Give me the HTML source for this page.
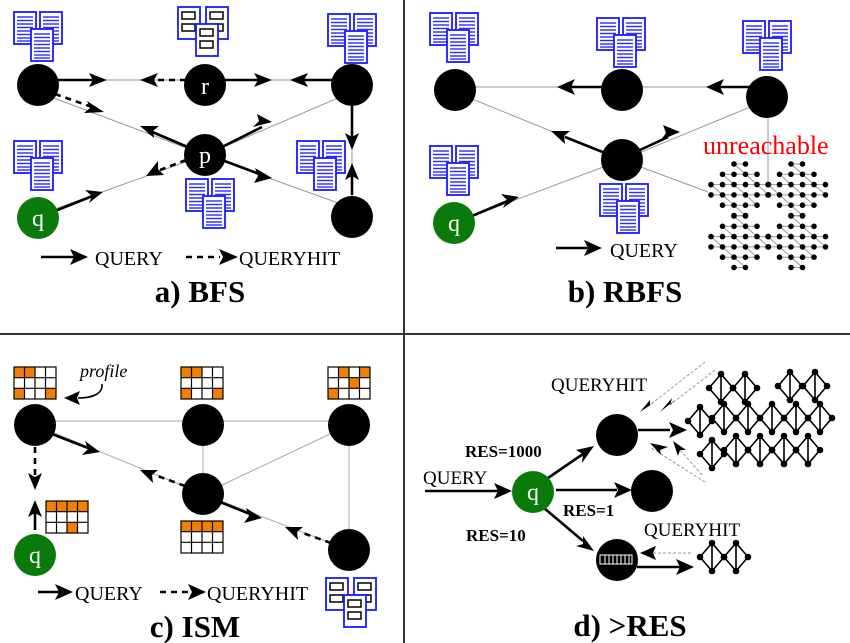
<!DOCTYPE html>
<html><head><meta charset="utf-8"><style>
html,body{margin:0;padding:0;background:#fff}
svg{display:block}
text{font-family:"Liberation Serif",serif}
</style></head><body>
<svg width="850" height="643" viewBox="0 0 850 643" xmlns="http://www.w3.org/2000/svg">
<defs>
<g id="page"><rect x="0" y="0" width="22" height="32" fill="#fff" stroke="#1a1aff" stroke-width="1.8"/><g stroke="#2a2aff" stroke-width="1.4"><line x1="3" y1="5" x2="19" y2="5"/><line x1="3" y1="8.5" x2="19" y2="8.5"/><line x1="3" y1="12" x2="19" y2="12"/><line x1="3" y1="15.5" x2="19" y2="15.5"/><line x1="3" y1="19" x2="19" y2="19"/><line x1="3" y1="22.5" x2="19" y2="22.5"/><line x1="3" y1="26" x2="19" y2="26"/><line x1="3" y1="29" x2="19" y2="29"/></g></g>
<g id="docs"><use href="#page" x="0" y="0"/><use href="#page" x="26" y="0"/><use href="#page" x="17" y="17"/></g>
<g id="cpage"><rect x="0" y="0" width="22" height="32" fill="#fff" stroke="#1a1aff" stroke-width="1.8"/><rect x="4" y="5" width="13" height="7" fill="#fff" stroke="#000" stroke-width="1.5"/><rect x="4" y="17" width="13" height="7" fill="#fff" stroke="#000" stroke-width="1.5"/></g>
<g id="cdocs"><use href="#cpage" x="0" y="0"/><use href="#cpage" x="28" y="0"/><use href="#cpage" x="18" y="17"/></g>
<g id="clu">
<g stroke="#999" stroke-width="1"><line x1="23" y1="0" x2="34.5" y2="0"/><line x1="11.5" y1="10.3" x2="46" y2="10.3"/><line x1="0" y1="20.6" x2="57.5" y2="20.6"/><line x1="0" y1="30.9" x2="57.5" y2="30.9"/><line x1="11.5" y1="41.2" x2="46" y2="41.2"/><line x1="23" y1="51.5" x2="34.5" y2="51.5"/>
<line x1="23" y1="0" x2="57.5" y2="30.9"/><line x1="11.5" y1="10.3" x2="46" y2="41.2"/><line x1="0" y1="20.6" x2="34.5" y2="51.5"/></g>
<g fill="#000"><circle cx="23" cy="0" r="2.8"/><circle cx="34.5" cy="0" r="2.8"/>
<circle cx="11.5" cy="10.3" r="2.8"/><circle cx="23" cy="10.3" r="2.8"/><circle cx="34.5" cy="10.3" r="2.8"/><circle cx="46" cy="10.3" r="2.8"/>
<circle cx="0" cy="20.6" r="2.8"/><circle cx="11.5" cy="20.6" r="2.8"/><circle cx="23" cy="20.6" r="2.8"/><circle cx="34.5" cy="20.6" r="2.8"/><circle cx="46" cy="20.6" r="2.8"/><circle cx="57.5" cy="20.6" r="2.8"/>
<circle cx="0" cy="30.9" r="2.8"/><circle cx="11.5" cy="30.9" r="2.8"/><circle cx="23" cy="30.9" r="2.8"/><circle cx="34.5" cy="30.9" r="2.8"/><circle cx="46" cy="30.9" r="2.8"/><circle cx="57.5" cy="30.9" r="2.8"/>
<circle cx="11.5" cy="41.2" r="2.8"/><circle cx="23" cy="41.2" r="2.8"/><circle cx="34.5" cy="41.2" r="2.8"/><circle cx="46" cy="41.2" r="2.8"/>
<circle cx="23" cy="51.5" r="2.8"/><circle cx="34.5" cy="51.5" r="2.8"/></g></g>
<g id="dia"><path d="M0,0 L-12,14 L0,28 L12,14 Z M0,0 L0,28" fill="none" stroke="#000" stroke-width="1.6"/><g fill="#000"><circle cx="0" cy="0" r="3.3"/><circle cx="-12" cy="14" r="3.3"/><circle cx="12" cy="14" r="3.3"/><circle cx="0" cy="28" r="3.3"/></g></g>
</defs>

<!-- dividers -->
<line x1="404" y1="0" x2="404" y2="643" stroke="#333" stroke-width="2"/>
<line x1="0" y1="334" x2="850" y2="334" stroke="#333" stroke-width="2"/>

<!-- ===== a) BFS ===== -->
<g stroke="#999" stroke-width="1" fill="none">
<line x1="38" y1="80" x2="352" y2="80"/>
<line x1="38" y1="92" x2="205" y2="155"/><line x1="352" y1="92" x2="205" y2="155"/>
<line x1="38" y1="215" x2="205" y2="155"/><line x1="352" y1="208" x2="205" y2="155"/>
<line x1="352" y1="85" x2="352" y2="217"/>
</g>
<g stroke="#000" stroke-width="2.6" fill="none">
<line x1="55" y1="80" x2="95" y2="80"/>
<line x1="222" y1="80" x2="262" y2="80"/>
<line x1="335" y1="80" x2="300" y2="80"/>
<line x1="352" y1="105" x2="352" y2="140"/>
<line x1="352" y1="195" x2="352" y2="172"/>
<line x1="190" y1="148" x2="150" y2="131"/>
<line x1="220" y1="148" x2="262" y2="127"/>
<line x1="222" y1="160" x2="262" y2="175"/>
<line x1="55" y1="211" x2="95" y2="195"/>
</g>
<g stroke="#000" stroke-width="2.6" fill="none" stroke-dasharray="6,5">
<line x1="186" y1="80" x2="150" y2="80"/>
<line x1="55" y1="94" x2="92" y2="107"/>
<line x1="186" y1="160" x2="160" y2="170"/>
</g>
<g fill="#000">
<path d="M107,80 L89,73 L93,80 L89,87Z"/>
<path d="M140,80 L158,73 L154,80 L158,87Z"/>
<path d="M272,80 L254,73 L258,80 L254,87Z"/>
<path d="M290,80 L308,73 L304,80 L308,87Z"/>
<path d="M104,112 L87,101 L90,108 L84,113Z"/>
<path d="M140,126 L159,126 L153,131 L154,138Z"/>
<path d="M272,122 L257,114 L259,121 L253,127Z"/>
<path d="M272,178 L255,168 L258,176 L254,183Z"/>
<path d="M146,176 L158,161 L158,169 L164,175Z"/>
<path d="M103,192 L85,190 L92,196 L89,203Z"/>
<path d="M352,150 L345,133 L352,137 L359,133Z"/>
<path d="M352,163 L345,180 L352,176 L359,180Z"/>
</g>
<circle cx="38" cy="85" r="21" fill="#000"/>
<circle cx="205" cy="85" r="21" fill="#000"/>
<circle cx="352" cy="85" r="21" fill="#000"/>
<circle cx="205" cy="155" r="21" fill="#000"/>
<circle cx="352" cy="217" r="21" fill="#000"/>
<circle cx="38" cy="218" r="21" fill="#0a7a0a"/>
<text x="205" y="94" fill="#fff" font-size="24" text-anchor="middle">r</text>
<text x="205" y="163" fill="#fff" font-size="24" text-anchor="middle">p</text>
<text x="38" y="226" fill="#fff" font-size="24" text-anchor="middle">q</text>
<use href="#docs" x="14" y="12"/>
<use href="#cdocs" x="178" y="7"/>
<use href="#docs" x="328" y="14"/>
<use href="#docs" x="14" y="141"/>
<use href="#docs" x="186" y="179"/>
<use href="#docs" x="297" y="141"/>
<line x1="41" y1="257" x2="75" y2="257" stroke="#000" stroke-width="2.6"/>
<path d="M88,257 L70,249 L74,257 L70,265Z" fill="#000"/>
<text x="95" y="265" font-size="20">QUERY</text>
<line x1="186" y1="257" x2="220" y2="257" stroke="#000" stroke-width="2.6" stroke-dasharray="6,5"/>
<path d="M238,257 L219,249 L223,257 L219,265Z" fill="#000"/>
<text x="239" y="265" font-size="20">QUERYHIT</text>
<text x="200" y="302" font-size="31" font-weight="bold" text-anchor="middle">a) BFS</text>

<!-- ===== b) RBFS ===== -->
<g stroke="#999" stroke-width="1" fill="none">
<line x1="455" y1="87" x2="767" y2="87"/>
<line x1="455" y1="92" x2="622" y2="160"/>
<line x1="767" y1="100" x2="622" y2="160"/>
<line x1="454" y1="223" x2="622" y2="160"/>
<line x1="622" y1="160" x2="708" y2="192"/>
<line x1="768" y1="97" x2="768" y2="185"/>
</g>
<g stroke="#000" stroke-width="2.6">
<line x1="605" y1="87" x2="570" y2="87"/>
<line x1="750" y1="87" x2="720" y2="87"/>
<line x1="605" y1="153" x2="565" y2="137"/>
<line x1="640" y1="150" x2="668" y2="137"/>
<line x1="472" y1="216" x2="510" y2="200"/>
</g>
<g fill="#000">
<path d="M557,87 L575,79 L571,87 L575,95Z"/>
<path d="M706,87 L724,79 L720,87 L724,95Z"/>
<path d="M551,131 L570,131 L564,136 L565,144Z"/>
<path d="M680,132 L663,125 L666,133 L661,140Z"/>
<path d="M519,197 L501,194 L507,200 L503,208Z"/>
</g>
<circle cx="455" cy="90" r="21" fill="#000"/>
<circle cx="622" cy="90" r="21" fill="#000"/>
<circle cx="767" cy="97" r="21" fill="#000"/>
<circle cx="622" cy="160" r="21" fill="#000"/>
<circle cx="454" cy="223" r="21" fill="#0a7a0a"/>
<text x="454" y="231" fill="#fff" font-size="24" text-anchor="middle">q</text>
<use href="#docs" x="430" y="13"/>
<use href="#docs" x="597" y="18"/>
<use href="#docs" x="743" y="21"/>
<use href="#docs" x="430" y="146"/>
<use href="#docs" x="600" y="184"/>
<text x="703" y="154" font-size="26" fill="#ff0000">unreachable</text>
<use href="#clu" x="711" y="164"/>
<use href="#clu" x="768" y="164"/>
<use href="#clu" x="711" y="216"/>
<use href="#clu" x="768" y="216"/>
<line x1="556" y1="248" x2="588" y2="248" stroke="#000" stroke-width="2.6"/>
<path d="M602,248 L584,240 L588,248 L584,256Z" fill="#000"/>
<text x="610" y="257" font-size="20">QUERY</text>
<text x="625" y="302" font-size="31" font-weight="bold" text-anchor="middle">b) RBFS</text>

<!-- ===== c) ISM ===== -->
<g stroke="#aaa" stroke-width="1" fill="none">
<line x1="35" y1="421" x2="349" y2="421"/>
<line x1="35" y1="425" x2="203" y2="494"/>
<line x1="203" y1="425" x2="203" y2="494"/>
<line x1="349" y1="425" x2="203" y2="494"/>
<line x1="203" y1="494" x2="349" y2="550"/>
<line x1="349" y1="425" x2="349" y2="550"/>
</g>
<g stroke="#000" stroke-width="2.6" fill="none">
<line x1="52" y1="434" x2="88" y2="448"/>
<line x1="220" y1="502" x2="250" y2="514"/>
<line x1="35" y1="530" x2="35" y2="505"/>
<path d="M102,384 C103,393 94,398 78,398" stroke-width="1.6"/>
</g>
<g stroke="#000" stroke-width="2.6" fill="none" stroke-dasharray="6,5">
<line x1="185" y1="486" x2="155" y2="475"/>
<line x1="331" y1="543" x2="300" y2="532"/>
<line x1="35" y1="447" x2="35" y2="477"/>
</g>
<g fill="#000">
<path d="M100,452 L85,441 L88,449 L82,455Z"/>
<path d="M140,470 L158,470 L152,475 L153,483Z"/>
<path d="M262,518 L246,508 L249,516 L244,523Z"/>
<path d="M285,527 L303,527 L297,532 L298,540Z"/>
<path d="M35,490 L28,473 L35,477 L42,473Z"/>
<path d="M35,500 L28,517 L35,513 L42,517Z"/>
<path d="M64,398 L80,391 L77,398 L80,405Z"/>
</g>
<circle cx="35" cy="425" r="21" fill="#000"/>
<circle cx="203" cy="425" r="21" fill="#000"/>
<circle cx="349" cy="425" r="21" fill="#000"/>
<circle cx="203" cy="494" r="21" fill="#000"/>
<circle cx="349" cy="550" r="21" fill="#000"/>
<circle cx="35" cy="555" r="21" fill="#0a7a0a"/>
<text x="35" y="563" fill="#fff" font-size="24" text-anchor="middle">q</text>
<text x="80" y="377" font-size="18" font-style="italic">profile</text>
<!-- grids -->
<g fill="#fff">
<rect x="14" y="367" width="42" height="32"/><rect x="181" y="367" width="42" height="32"/><rect x="328" y="367" width="42" height="32"/><rect x="46" y="501" width="42" height="32"/><rect x="181" y="521" width="42" height="32"/>
</g>
<g fill="#f28000">
<rect x="14" y="367" width="21" height="11"/><rect x="14" y="388" width="11" height="11"/><rect x="45" y="388" width="11" height="11"/>
<rect x="181" y="367" width="21" height="11"/><rect x="181" y="388" width="11" height="11"/><rect x="212" y="388" width="11" height="11"/>
<rect x="338" y="367" width="11" height="11"/><rect x="359" y="367" width="11" height="11"/><rect x="349" y="378" width="11" height="11"/><rect x="328" y="388" width="11" height="11"/>
<rect x="46" y="501" width="42" height="11"/><rect x="67" y="522" width="11" height="11"/>
<rect x="181" y="521" width="42" height="11"/>
</g>
<g fill="none" stroke="#000" stroke-width="1.2">
<rect x="14" y="367" width="42" height="32"/><path d="M14,377.7H56M14,388.3H56M24.5,367V399M35,367V399M45.5,367V399"/>
<rect x="181" y="367" width="42" height="32"/><path d="M181,377.7H223M181,388.3H223M191.5,367V399M202,367V399M212.5,367V399"/>
<rect x="328" y="367" width="42" height="32"/><path d="M328,377.7H370M328,388.3H370M338.5,367V399M349,367V399M359.5,367V399"/>
<rect x="46" y="501" width="42" height="32"/><path d="M46,511.7H88M46,522.3H88M56.5,501V533M67,501V533M77.5,501V533"/>
<rect x="181" y="521" width="42" height="32"/><path d="M181,531.7H223M181,542.3H223M191.5,521V553M202,521V553M212.5,521V553"/>
</g>
<use href="#cdocs" x="326" y="578"/>
<line x1="38" y1="592" x2="60" y2="592" stroke="#000" stroke-width="2.6"/>
<path d="M73,592 L55,584 L59,592 L55,600Z" fill="#000"/>
<text x="75" y="600" font-size="20">QUERY</text>
<line x1="160" y1="592" x2="188" y2="592" stroke="#000" stroke-width="2.6" stroke-dasharray="6,5"/>
<path d="M206,592 L188,584 L192,592 L188,600Z" fill="#000"/>
<text x="207" y="600" font-size="20">QUERYHIT</text>
<text x="195" y="637" font-size="31" font-weight="bold" text-anchor="middle">c) ISM</text>

<!-- ===== d) >RES ===== -->
<g stroke="#999" stroke-width="1" stroke-dasharray="3,2" fill="none">
<line x1="705" y1="362" x2="650" y2="405"/>
<line x1="715" y1="370" x2="670" y2="405"/>
<line x1="705" y1="482" x2="650" y2="447"/>
<line x1="702" y1="475" x2="680" y2="450"/>
<line x1="691" y1="553" x2="650" y2="553"/>
</g>
<g fill="#000">
<path d="M640,412 L655,402 L650,405 L650,400Z"/>
<path d="M660,412 L675,400 L670,405 L672,398Z"/>
<path d="M650,443 L668,447 L660,450 L661,455Z"/>
<path d="M673,441 L686,450 L680,450 L678,456Z"/>
<path d="M640,553 L656,546 L653,553 L656,560Z"/>
</g>
<g stroke="#000" stroke-width="2.6">
<line x1="425" y1="491" x2="498" y2="491"/>
<line x1="548" y1="478" x2="583" y2="454"/>
<line x1="556" y1="490" x2="617" y2="490"/>
<line x1="544" y1="508" x2="583" y2="541"/>
<line x1="638" y1="430" x2="670" y2="430"/>
<line x1="637" y1="567" x2="683" y2="567"/>
</g>
<g fill="#000">
<path d="M512,491 L494,483 L498,491 L494,499Z"/>
<path d="M594,446 L576,450 L583,454 L582,463Z"/>
<path d="M632,490 L614,482 L618,490 L614,498Z"/>
<path d="M594,551 L583,536 L583,544 L576,546Z"/>
<path d="M687,430 L669,422 L673,430 L669,438Z"/>
<path d="M694,567 L676,559 L680,567 L676,575Z"/>
</g>
<circle cx="617" cy="435" r="21" fill="#000"/>
<circle cx="652" cy="491" r="21" fill="#000"/>
<circle cx="617" cy="560" r="21" fill="#000"/>
<circle cx="533" cy="492" r="21" fill="#0a7a0a"/>
<text x="533" y="500" fill="#fff" font-size="24" text-anchor="middle">q</text>
<g fill="#fff" stroke="#fff" stroke-width="1"><rect x="600" y="555" width="32" height="9" fill="none"/><path d="M605,555V564M609,555V564M613,555V564M617,555V564M621,555V564M625,555V564M629,555V564"/></g>
<!-- big network -->
<use href="#dia" x="721" y="374"/><use href="#dia" x="745" y="374"/>
<use href="#dia" x="790" y="372"/><use href="#dia" x="815" y="372"/>
<use href="#dia" x="700" y="407"/><use href="#dia" x="724" y="404"/><use href="#dia" x="748" y="404"/><use href="#dia" x="772" y="404"/><use href="#dia" x="796" y="404"/><use href="#dia" x="820" y="404"/>
<use href="#dia" x="712" y="440"/><use href="#dia" x="736" y="436"/><use href="#dia" x="760" y="436"/><use href="#dia" x="784" y="436"/><use href="#dia" x="808" y="436"/>
<!-- small network -->
<use href="#dia" x="712" y="543"/><use href="#dia" x="736" y="543"/>
<text x="551" y="391" font-size="19">QUERYHIT</text>
<text x="644" y="536" font-size="19">QUERYHIT</text>
<text x="423" y="484" font-size="19">QUERY</text>
<text x="465" y="457" font-size="17" font-weight="bold">RES=1000</text>
<text x="563" y="516" font-size="17" font-weight="bold">RES=1</text>
<text x="466" y="541" font-size="17" font-weight="bold">RES=10</text>
<text x="630" y="636" font-size="31" font-weight="bold" text-anchor="middle">d) &gt;RES</text>
</svg>
</body></html>
